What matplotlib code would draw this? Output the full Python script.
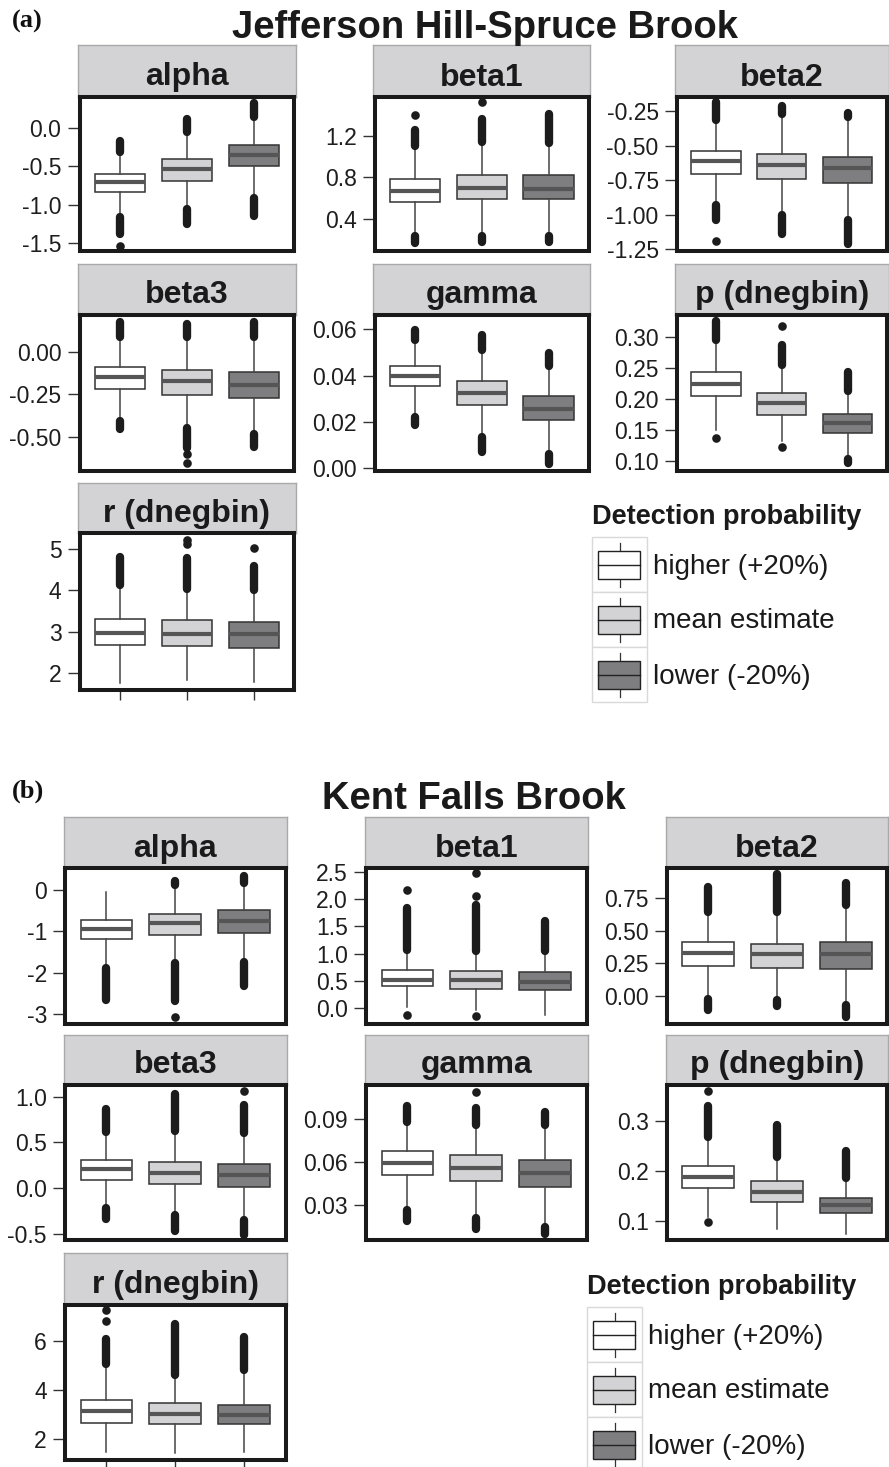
import matplotlib
matplotlib.use('Agg')
import matplotlib.pyplot as plt
from matplotlib.patches import Rectangle

plt.rcParams['font.family'] = ['Liberation Sans', 'DejaVu Sans']
plt.rcParams['axes.unicode_minus'] = False

# ---------------- data ----------------
params = ['alpha', 'beta1', 'beta2', 'beta3', 'gamma', 'p (dnegbin)', 'r (dnegbin)']
groups = ['higher (+20%)', 'mean estimate', 'lower (-20%)']
sites = ['Jefferson Hill-Spruce Brook', 'Kent Falls Brook']
tags = ['(a)', '(b)']
legend_title = 'Detection probability'

# Site (a): Jefferson Hill-Spruce Brook   (per parameter: [higher, mean, lower])
a_q1 = [[-0.84, -0.69, -0.50], [0.565, 0.59, 0.59], [-0.70, -0.74, -0.77], [-0.22, -0.255, -0.27],
        [0.0353, 0.0275, 0.0207], [0.2048, 0.174, 0.1457], [2.68, 2.66, 2.62]]
a_med = [[-0.71, -0.54, -0.355], [0.67, 0.70, 0.69], [-0.61, -0.64, -0.66], [-0.15, -0.175, -0.195],
         [0.0396, 0.0324, 0.0257], [0.2236, 0.193, 0.161], [2.97, 2.94, 2.94]]
a_q3 = [[-0.60, -0.41, -0.23], [0.79, 0.82, 0.82], [-0.54, -0.56, -0.58], [-0.088, -0.11, -0.12],
        [0.0443, 0.0376, 0.031], [0.2426, 0.209, 0.175], [3.32, 3.28, 3.24]]
a_wlo = [[-1.16, -1.06, -0.92], [0.24, 0.24, 0.24], [-0.93, -1.00, -1.035], [-0.405, -0.45, -0.485],
         [0.0221, 0.0136, 0.0064], [0.15, 0.132, 0.103], [1.76, 1.85, 1.80]]
a_whi = [[-0.31, -0.05, 0.14], [1.10, 1.14, 1.13], [-0.31, -0.27, -0.29], [0.085, 0.085, 0.085],
         [0.0554, 0.051, 0.0443], [0.2947, 0.254, 0.212], [4.12, 4.04, 4.00]]
a_out_top = [[-0.17, 0.11, 0.32], [1.26, 1.36, 1.41], [-0.18, -0.21, -0.26], [0.176, 0.166, 0.176],
             [0.0597, 0.0573, 0.0497], [0.326, 0.286, 0.243], [4.81, 4.78, 4.58]]
a_out_bot = [[-1.38, -1.25, -1.15], [0.17, 0.18, 0.18], [-1.04, -1.14, -1.21], [-0.456, -0.565, -0.56],
             [0.0187, 0.0072, 0.0017], [None, None, 0.097], [None, None, None]]
a_out_pts = [[[-1.54], [], []], [[1.40], [1.53], []], [[-1.19], [], []], [[], [-0.604, -0.657], []],
             [[], [], []], [[0.137], [0.318, 0.123], []], [[], [5.13, 5.23], [5.02]]]
a_ylim = [(-1.60, 0.40), (0.094, 1.576), (-1.26, -0.145), (-0.70, 0.218),
          (-0.001, 0.0662), (0.0844, 0.3354), (1.59, 5.38)]
a_ticks = [['0.0', '-0.5', '-1.0', '-1.5'], ['1.2', '0.8', '0.4'],
           ['-0.25', '-0.50', '-0.75', '-1.00', '-1.25'], ['0.00', '-0.25', '-0.50'],
           ['0.06', '0.04', '0.02', '0.00'], ['0.30', '0.25', '0.20', '0.15', '0.10'],
           ['5', '4', '3', '2']]

# Site (b): Kent Falls Brook
b_q1 = [[-1.19, -1.09, -1.03], [0.40, 0.36, 0.34], [0.23, 0.215, 0.21], [0.09, 0.047, 0.017],
        [0.0513, 0.047, 0.0424], [0.1667, 0.137, 0.1163], [2.67, 2.64, 2.61]]
b_med = [[-0.95, -0.80, -0.74], [0.52, 0.51, 0.49], [0.33, 0.32, 0.32], [0.21, 0.17, 0.14],
         [0.0592, 0.0558, 0.0525], [0.1887, 0.1583, 0.1317], [3.14, 3.05, 3.01]]
b_q3 = [[-0.72, -0.58, -0.48], [0.70, 0.68, 0.66], [0.415, 0.40, 0.415], [0.31, 0.29, 0.26],
        [0.0677, 0.0647, 0.0615], [0.2107, 0.18, 0.1463], [3.59, 3.48, 3.41]]
b_wlo = [[-1.89, -1.77, -1.73], [0.03, -0.03, -0.12], [-0.02, -0.03, -0.07], [-0.22, -0.29, -0.35],
         [0.0265, 0.0207, 0.0148], [0.1087, 0.084, 0.074], [1.50, 1.43, 1.50]]
b_whi = [[-0.04, 0.12, 0.16], [1.06, 1.04, 1.04], [0.645, 0.645, 0.70], [0.61, 0.62, 0.60],
         [0.0883, 0.0862, 0.0862], [0.2687, 0.2287, 0.1853], [5.07, 4.61, 4.81]]
b_out_top = [[None, 0.22, 0.34], [1.83, 1.89, 1.59], [0.835, 0.94, 0.87], [0.87, 1.03, 0.91],
             [0.0995, 0.0982, 0.0949], [0.331, 0.292, 0.239], [6.08, 6.69, 6.18]]
b_out_bot = [[-2.65, -2.69, -2.31], [None, None, None], [-0.11, -0.08, -0.16], [-0.34, -0.47, -0.51],
             [0.0188, 0.013, 0.0095], [None, None, None], [None, None, None]]
b_out_pts = [[[], [-3.06], []], [[2.17, -0.12], [2.05, 2.48, -0.15], []], [[], [], []],
             [[], [], [1.06]], [[], [0.1093], []], [[0.36, 0.0975], [], []], [[6.81, 7.26], [], []]]
b_ylim = [(-3.227, 0.524), (-0.282, 2.562), (-0.212, 0.98), (-0.569, 1.131),
          (0.0053, 0.1142), (0.0614, 0.3726), (1.16, 7.476)]
b_ticks = [['0', '-1', '-2', '-3'], ['2.5', '2.0', '1.5', '1.0', '0.5', '0.0'],
           ['0.75', '0.50', '0.25', '0.00'], ['1.0', '0.5', '0.0', '-0.5'],
           ['0.09', '0.06', '0.03'], ['0.3', '0.2', '0.1'], ['6', '4', '2']]

# ---------------- styling / layout ----------------
W, H = 889, 1467
fig = plt.figure(figsize=(W / 100, H / 100), dpi=100)
fig.patch.set_facecolor('white')

box_fill = ['#ffffff', '#d3d3d5', '#7e7e81']
strip_fill = '#d3d3d5'
dark = '#1c1c1c'
xs = [1, 2, 3]


def px_axes(x0, y0, x1, y1):
    return fig.add_axes([x0 / W, 1 - y1 / H, (x1 - x0) / W, (y1 - y0) / H])


layouts = [
    dict(cols=[(79.5, 294), (374.7, 588.7), (676.7, 887)],
         rows=[(45, 97, 250.7), (264, 314.7, 470.7), (483, 533.3, 690.3)],
         title_x=485, title_base=38, tag_y=21, leg_x=592, leg_title_y=517, leg_key_y=537),
    dict(cols=[(65, 285.7), (366, 586.7), (667, 887)],
         rows=[(817, 868.3, 1023.7), (1035, 1084.7, 1240.3), (1253, 1304.7, 1460)],
         title_x=474, title_base=809, tag_y=791, leg_x=587, leg_title_y=1287, leg_key_y=1307),
]

site_data = [
    (a_q1, a_med, a_q3, a_wlo, a_whi, a_out_top, a_out_bot, a_out_pts, a_ylim, a_ticks),
    (b_q1, b_med, b_q3, b_wlo, b_whi, b_out_top, b_out_bot, b_out_pts, b_ylim, b_ticks),
]

legend_jobs = []

for si, (q1, med, q3, wlo, whi, otop, obot, opts, ylims, ticks) in enumerate(site_data):
    L = layouts[si]
    for k, name in enumerate(params):
        r, c = divmod(k, 3)
        x0, x1 = L['cols'][c]
        st, pt, pb = L['rows'][r]
        # strip
        sax = px_axes(x0 - 1.5, st, x1 + 1.5, pt)
        sax.set_facecolor(strip_fill)
        sax.set_xticks([])
        sax.set_yticks([])
        for s in sax.spines.values():
            s.set_color('#a9a9aa')
            s.set_linewidth(1.0)
        sax.text(0.5, 11.5 / (pt - st), name, transform=sax.transAxes, ha='center', va='baseline',
                 fontsize=23, fontweight='bold', color='#1a1a1a')
        # panel
        ax = px_axes(x0, pt, x1, pb)
        stats = [dict(q1=q1[k][g], med=med[k][g], q3=q3[k][g], whislo=wlo[k][g], whishi=whi[k][g],
                      fliers=[]) for g in range(3)]
        bp = ax.bxp(stats, positions=xs, widths=0.75, patch_artist=True, showfliers=False,
                    showcaps=False,
                    boxprops=dict(edgecolor='#333333', linewidth=1.1),
                    whiskerprops=dict(color='#444444', linewidth=1.1),
                    medianprops=dict(color='#555555', linewidth=3.0, solid_capstyle='butt'))
        for patch, fc in zip(bp['boxes'], box_fill):
            patch.set_facecolor(fc)
        for g in range(3):
            x = xs[g]
            if otop[k][g] is not None:
                ax.plot([x, x], [whi[k][g], otop[k][g]], color=dark, lw=6, solid_capstyle='round')
            if obot[k][g] is not None:
                ax.plot([x, x], [wlo[k][g], obot[k][g]], color=dark, lw=6, solid_capstyle='round')
            if opts[k][g]:
                ax.plot([x] * len(opts[k][g]), opts[k][g], 'o', color=dark, ms=6.2, mec='none')
        ax.set_xlim(0.4, 3.6)
        ax.set_ylim(*ylims[k])
        ax.set_yticks([float(t) for t in ticks[k]])
        ax.set_yticklabels(ticks[k])
        ax.tick_params(axis='y', direction='out', length=9, width=1.0, color='#333333',
                       labelsize=16.5, labelcolor='#1e1e1e', pad=4)
        if r == 2:
            ax.set_xticks(xs)
            ax.set_xticklabels([])
            ax.tick_params(axis='x', direction='out', length=7, width=1.0, color='#333333')
        else:
            ax.set_xticks([])
        for s in ax.spines.values():
            s.set_color('#1a1a1a')
            s.set_linewidth(2.9)
    # title and tag
    fig.text(L['title_x'] / W, 1 - L['title_base'] / H, sites[si], ha='center', va='baseline',
             fontsize=27.5, fontweight='bold', color='#1a1a1a')
    fig.text(12 / W, 1 - L['tag_y'] / H, tags[si], ha='left', va='center', fontsize=19,
             fontweight='bold', family=['Liberation Serif', 'DejaVu Serif'], color='#111111')
    legend_jobs.append(L)

# ---------------- legends (drawn in pixel overlay) ----------------
ov = fig.add_axes([0, 0, 1, 1])
ov.set_xlim(0, W)
ov.set_ylim(H, 0)
ov.axis('off')
ks = 55
for L in legend_jobs:
    lx = L['leg_x']
    ov.text(lx, L['leg_title_y'], legend_title, ha='left', va='center', fontsize=19.5,
            fontweight='bold', color='#1a1a1a')
    for g, lab in enumerate(groups):
        ky = L['leg_key_y'] + g * ks
        ov.add_patch(Rectangle((lx, ky), ks, ks, facecolor='white', edgecolor='#d9d9d9', lw=1.0))
        cx = lx + ks / 2
        ov.plot([cx, cx], [ky + 5.5, ky + 50], color='#333333', lw=0.9)
        ov.add_patch(Rectangle((lx + 6.3, ky + 13.7), 42, 28, facecolor=box_fill[g],
                               edgecolor='#222222', lw=1.0, zorder=3))
        ov.plot([lx + 6.3, lx + 48.3], [ky + 27.7, ky + 27.7], color='#222222', lw=1.0, zorder=4)
        ov.text(lx + 61, ky + ks / 2 + 2, lab, ha='left', va='center', fontsize=20, color='#1a1a1a')

fig.savefig('out.png', dpi=100, facecolor='white')
